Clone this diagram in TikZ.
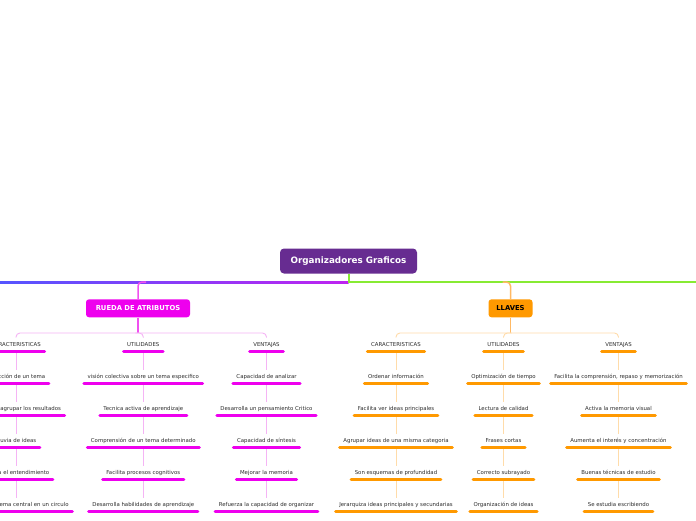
\documentclass[tikz,border=0pt]{standalone}
\usepackage{fontspec}
\setmainfont{DejaVu Sans}
\usetikzlibrary{calc}
\definecolor{cpurple}{RGB}{103,44,145}
\definecolor{cmag}{RGB}{238,0,238}
\definecolor{corange}{RGB}{255,153,0}
\definecolor{lpink}{RGB}{245,180,245}
\definecolor{lorange}{RGB}{255,220,170}
\definecolor{bmag}{RGB}{240,80,240}
\definecolor{borange}{RGB}{255,185,100}
\definecolor{cgreen}{RGB}{135,235,50}
\definecolor{cblue}{RGB}{85,85,255}
\definecolor{cviolet}{RGB}{190,35,240}
\definecolor{txt}{RGB}{45,45,45}
\tikzset{
  it/.style={font=\fontsize{5.4}{6.5}\selectfont, text=txt, inner xsep=5pt, inner ysep=4.3pt,
    text height=3.8pt, text depth=1pt, anchor=base},
  hd/.style={it},
  ulm/.style={draw=cmag, line width=3pt, line cap=round, shorten <=1.5pt, shorten >=1.5pt},
  ulo/.style={draw=corange, line width=3pt, line cap=round, shorten <=1.5pt, shorten >=1.5pt},
  cpk/.style={draw=lpink, line width=0.9pt},
  cor/.style={draw=lorange, line width=0.9pt},
  mainbox/.style={fill=cpurple, rounded corners=4pt, text=white, font=\bfseries\fontsize{8.8}{10}\selectfont,
    minimum width=137pt, minimum height=25pt, inner sep=0pt},
  subbox/.style={rounded corners=3pt, font=\bfseries\fontsize{6.8}{8}\selectfont,
    minimum height=18pt, inner ysep=0pt},
}
\begin{document}
\begin{tikzpicture}[x=1pt,y=-1pt]
\useasboundingbox (0,0) rectangle (696,520);
\clip (0,0) rectangle (696,520);
\fill[white] (0,0) rectangle (696,520);

% main line
\fill[left color=cblue, right color=cviolet] (0,281) rectangle (348.5,283);
\coordinate (jl) at (138,333);
\coordinate (jo) at (510.5,333);

\node[mainbox] (root) at (348.5,261) {Organizadores Graficos};
\node[subbox, fill=cmag, text=white, minimum width=104pt, inner xsep=0pt] (rueda) at (138,308.3) {RUEDA DE ATRIBUTOS};
\node[subbox, fill=corange, text=black, minimum width=44pt, inner xsep=0pt] (llaves) at (510.5,308.3) {LLAVES};

\coordinate (gr) at (696,282);
\draw[cgreen, line width=2pt] (root.south) -- (root.south |- gr) -- (gr);
\draw[bmag, line width=1.5pt, rounded corners=4pt] (rueda.north) |- ($(rueda.north |- gr)+(8,0)$);
\draw[borange, line width=1.5pt, rounded corners=4pt] (llaves.north) |- ($(llaves.north |- gr)+(-8,0)$);
\draw[bmag, line width=1.5pt] (rueda.south) -- (jl);
\draw[borange, line width=1.5pt] (llaves.south) -- (jo);

% RUEDA columns
\node[hd] (rc0) at (16,346) {CARACTERISTICAS};
\node[it] (rc1) at (16,378) {Selección de un tema};
\node[it] (rc2) at (16,410) {Sirve para agrupar los resultados};
\node[it] (rc3) at (16,442) {Lluvia de ideas};
\node[it] (rc4) at (16,474) {Facilita el entendimiento};
\node[it] (rc5) at (16,506) {Se coloca el tema central en un circulo};

\node[hd] (ru0) at (143.3,346) {UTILIDADES};
\node[it] (ru1) at (143.3,378) {visión colectiva sobre un tema especifico};
\node[it] (ru2) at (143.3,410) {Tecnica activa de aprendizaje};
\node[it] (ru3) at (143.3,442) {Comprensión de un tema determinado};
\node[it] (ru4) at (143.3,474) {Facilita procesos cognitivos};
\node[it] (ru5) at (143.3,506) {Desarrolla habilidades de aprendizaje};

\node[hd] (rv0) at (266.5,346) {VENTAJAS};
\node[it] (rv1) at (266.5,378) {Capacidad de analizar};
\node[it] (rv2) at (266.5,410) {Desarrolla un pensamiento Critico};
\node[it] (rv3) at (266.5,442) {Capacidad de síntesis};
\node[it] (rv4) at (266.5,474) {Mejorar la memoria};
\node[it] (rv5) at (266.5,506) {Refuerza la capacidad de organizar};

% LLAVES columns
\node[hd] (lc0) at (396,346) {CARACTERISTICAS};
\node[it] (lc1) at (396,378) {Ordenar información};
\node[it] (lc2) at (396,410) {Facilita ver ideas principales};
\node[it] (lc3) at (396,442) {Agrupar ideas de una misma categoria};
\node[it] (lc4) at (396,474) {Son esquemas de profundidad};
\node[it] (lc5) at (396,506) {Jerarquiza ideas principales y secundarias};

\node[hd] (lu0) at (503.5,346) {UTILIDADES};
\node[it] (lu1) at (503.5,378) {Optimización de tiempo};
\node[it] (lu2) at (503.5,410) {Lectura de calidad};
\node[it] (lu3) at (503.5,442) {Frases cortas};
\node[it] (lu4) at (503.5,474) {Correcto subrayado};
\node[it] (lu5) at (503.5,506) {Organización de ideas};

\node[hd] (lv0) at (618.5,346) {VENTAJAS};
\node[it] (lv1) at (618.5,378) {Facilita la comprensión, repaso y memorización};
\node[it] (lv2) at (618.5,410) {Activa la memoria visual};
\node[it] (lv3) at (618.5,442) {Aumenta el interés y concentración};
\node[it] (lv4) at (618.5,474) {Buenas técnicas de estudio};
\node[it] (lv5) at (618.5,506) {Se estudia escribiendo};

% header connectors
\draw[cpk, rounded corners=4pt] (rc0.north) |- (jl) -| (rv0.north);
\draw[cpk, rounded corners=4pt] (ru0.north) |- ($(ru0.north |- jl)+(-8,0)$);
\draw[cor, rounded corners=4pt] (lc0.north) |- (jo) -| (lv0.north);
\draw[cor, rounded corners=4pt] (lu0.north) |- ($(lu0.north |- jo)+(8,0)$);

% row connectors
\foreach \c in {rc,ru,rv}{
  \foreach \i/\j in {0/1,1/2,2/3,3/4,4/5}{
    \draw[cpk] (\c\i.south) -- (\c\j.north);
  }
}
\foreach \c in {lc,lu,lv}{
  \foreach \i/\j in {0/1,1/2,2/3,3/4,4/5}{
    \draw[cor] (\c\i.south) -- (\c\j.north);
  }
}
% underlines
\foreach \c in {rc,ru,rv}{
  \foreach \i in {0,...,5}{
    \draw[ulm] (\c\i.south west) -- (\c\i.south east);
  }
}
\foreach \c in {lc,lu,lv}{
  \foreach \i in {0,...,5}{
    \draw[ulo] (\c\i.south west) -- (\c\i.south east);
  }
}
\end{tikzpicture}
\end{document}
